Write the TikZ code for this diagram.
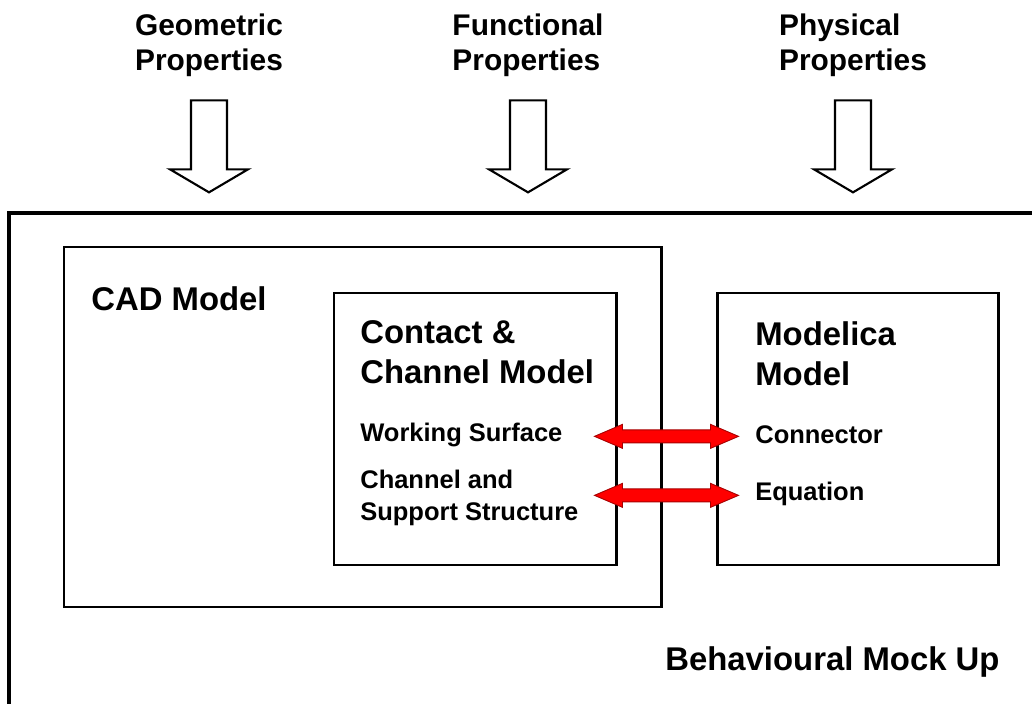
\documentclass[tikz,border=0pt]{standalone}
\usepackage{fontspec}
\setmainfont{Liberation Sans}
\usetikzlibrary{positioning, calc, fit}

\begin{document}
\begin{tikzpicture}[x=0.2mm, y=-0.2mm,
    txt/.style={inner sep=0pt, align=left},
    prop/.style={txt, anchor=north, font=\bfseries\fontsize{17}{19.8}\selectfont},
    head/.style={txt, font=\bfseries\fontsize{18.7}{22.7}\selectfont},
    item/.style={txt, font=\bfseries\fontsize{14.5}{18.1}\selectfont},
    box/.style={draw, line width=1.7pt, inner sep=0pt},
    hollow/.style={draw, fill=white, line width=1.2pt, line join=miter},
    dblarrow/.style={fill=red, draw=red!65!black, line width=0.5pt, to path={
      -- ($(\tikztostart)+(28,-12)$) -- ($(\tikztostart)+(28,-6.5)$)
      -- ($(\tikztotarget)+(-28,-6.5)$) -- ($(\tikztotarget)+(-28,-12)$)
      -- (\tikztotarget)
      -- ($(\tikztotarget)+(-28,12)$) -- ($(\tikztotarget)+(-28,6.5)$)
      -- ($(\tikztostart)+(28,6.5)$) -- ($(\tikztostart)+(28,12)$) -- cycle}}]
    \useasboundingbox (0,0) rectangle (1032,704);

    % inputs on top
    \node[prop] (geo) at (209,14) {Geometric\\Properties};
    \node[prop] (fun) at (528,14) {Functional\\Properties};
    \node[prop] (phy) at (853,14) {Physical\\Properties};
    \foreach \t in {geo,fun,phy}
      \draw[hollow] ($(\t.south)+(-18,23)$) -- ++(36,0) -- ++(0,69) -- ++(21,0)
        -- ++(-39,23) -- ++(-39,-23) -- ++(21,0) -- cycle;

    % mock up frame
    \draw[line width=1.8pt] (1032,213) -- (9,213) -- (9,704);
    \node[head, anchor=base west] (bmu) at (665,670) {Behavioural Mock Up};

    % models
    \node[box, fit={(64,247) (661,607)}] (cad) {};
    \node[box, fit={(334,293) (616,565)}] (contact) {};
    \node[box, fit={(717,293) (998,565)}] (modelica) {};

    \node[head, anchor=base west] (cadt) at (91,310) {CAD Model};
    \node[head, anchor=north west] (cct) at (360,320) {Contact \&\\Channel Model};
    \node[item, anchor=base west] (ws) at (360,441) {Working Surface};
    \node[item, anchor=north west] (css) at (360,470) {Channel and\\Support Structure};

    \node[head, anchor=north west] (mmt) at (755,321) {Modelica\\Model};
    \node[item, anchor=base west] (con) at (755,443) {Connector};
    \node[item, anchor=base west] (eq) at (755,500) {Equation};

    % links between the two models
    \coordinate (wsl) at ($(contact.east |- ws.mid)+(-23,0)$);
    \coordinate (wsr) at ($(modelica.west |- ws.mid)+(23,0)$);
    \coordinate (eql) at ($(contact.east |- eq.mid)+(-23,0)$);
    \coordinate (eqr) at ($(modelica.west |- eq.mid)+(23,0)$);
    \draw[dblarrow] (wsl) to (wsr);
    \draw[dblarrow] (eql) to (eqr);
\end{tikzpicture}
\end{document}
